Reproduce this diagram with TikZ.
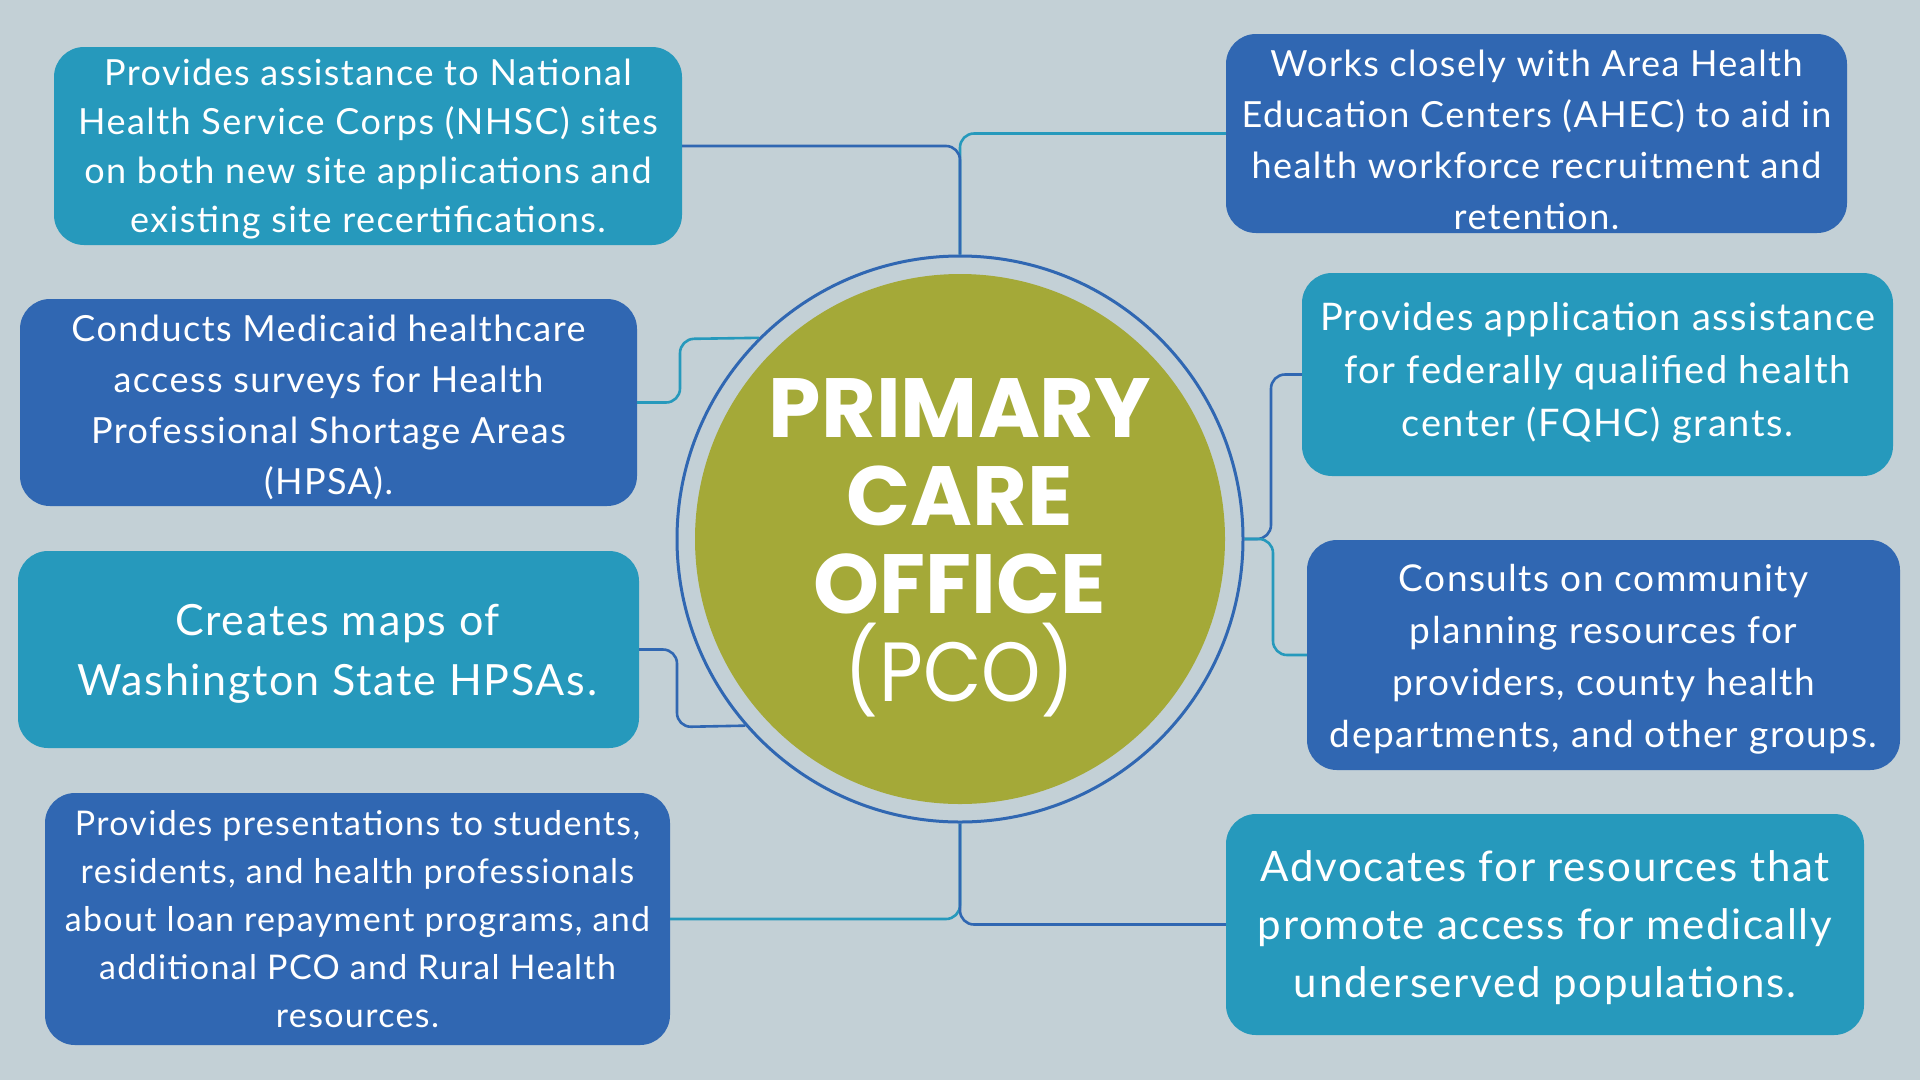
\documentclass[tikz,border=0pt]{standalone}
\usepackage{graphicx}
\usepackage{fontspec}
\setmainfont{Lato}[LetterSpace=4]
\newfontfamily\titlefont{Poppins}
\definecolor{bg}{HTML}{C3D0D6}
\definecolor{tealc}{HTML}{2699BC}
\definecolor{bluec}{HTML}{3067B2}
\definecolor{olivec}{HTML}{A4A938}
\begin{document}
\begin{tikzpicture}[x=1pt,y=-1pt,
  box/.style={rounded corners=30pt, inner sep=0pt},
  tbox/.style={box, fill=tealc},
  bbox/.style={box, fill=bluec},
  txt/.style={text=white, align=center, inner sep=0pt},
  link/.style={line width=2.6pt, rounded corners=14pt},
]
\fill[bg] (0,0) rectangle (1920,1080);
\useasboundingbox (0,0) rectangle (1920,1080);

% central circle
\node[circle, draw=bluec, line width=3pt, minimum size=566pt, inner sep=0pt] (ring) at (960,539) {};
\node[circle, fill=olivec, minimum size=530pt, inner sep=0pt] (disk) at (960,539) {};
\node[text=white, align=center, font=\titlefont\bfseries\fontsize{84}{88}\selectfont] (title) at (960,548)
  {PRIMARY\\CARE\\OFFICE\\{\mdseries\scalebox{0.9}[1]{(PCO)}}};

% boxes
\node[tbox, minimum width=628pt, minimum height=198pt] (b1) at (368,146) {};
\node[bbox, minimum width=617pt, minimum height=207pt] (b2) at (328.5,402.5) {};
\node[tbox, minimum width=621pt, minimum height=197pt] (b3) at (328.5,649.5) {};
\node[bbox, minimum width=625pt, minimum height=252pt] (b4) at (357.5,919) {};
\node[bbox, minimum width=621pt, minimum height=199pt] (b5) at (1536.5,133.5) {};
\node[tbox, minimum width=591pt, minimum height=203pt] (b6) at (1597.5,374.5) {};
\node[bbox, minimum width=593pt, minimum height=230pt] (b7) at (1603.5,655) {};
\node[tbox, minimum width=638pt, minimum height=221pt] (b8) at (1545,924.5) {};

% box texts
\node[txt, font=\fontsize{36}{49}\selectfont] (t1) at ([yshift=-3pt]b1.center)
  {Provides assistance to National\\Health Service Corps (NHSC) sites\\on both new site applications and\\existing site recertifications.};
\node[txt, font=\fontsize{36}{51}\selectfont] (t2) at ([yshift=-5pt]b2.center)
  {Conducts Medicaid healthcare\\access surveys for Health\\Professional Shortage Areas\\(HPSA).};
\node[txt, font=\fontsize{43}{60}\selectfont] (t3) at ([xshift=9pt,yshift=-4pt]b3.center)
  {Creates maps of\\Washington State HPSAs.};
\node[txt, font=\fontsize{34}{48}\selectfont] (t4) at (b4.center)
  {Provides presentations to students,\\residents, and health professionals\\about loan repayment programs, and\\additional PCO and Rural Health\\resources.};
\node[txt, font=\fontsize{36}{51}\selectfont] (t5) at ([yshift=-6pt]b5.center)
  {Works closely with Area Health\\Education Centers (AHEC) to aid in\\health workforce recruitment and\\retention.};
\node[txt, font=\fontsize{38}{53}\selectfont] (t6) at ([yshift=2pt]b6.center)
  {Provides application assistance\\for federally qualified health\\center (FQHC) grants.};
\node[txt, font=\fontsize{37}{52}\selectfont] (t7) at ([yshift=-4pt]b7.center)
  {Consults on community\\planning resources for\\providers, county health\\departments, and other groups.};
\node[txt, font=\fontsize{42}{58}\selectfont] (t8) at ([yshift=-3pt]b8.center)
  {Advocates for resources that\\promote access for medically\\underserved populations.};

% connectors
\draw[link, draw=tealc] (ring.north) |- (b5.west);
\draw[link, draw=bluec] (ring.north) |- (b1.east);
\draw[link, draw=tealc] (b2.east) -| (680,339) -- (ring.135);
\draw[link, draw=bluec] (b3.east) -| (677,727) -- (ring.221.6);
\draw[link, draw=tealc] (ring.south) |- (b4.east);
\draw[link, draw=bluec] (ring.south) |- (b8.west);
\draw[link, draw=bluec] (ring.east) -- (1271,539) |- (b6.west);
\draw[link, draw=tealc] (ring.east) -- (1273,539) |- (b7.west);
\end{tikzpicture}
\end{document}
